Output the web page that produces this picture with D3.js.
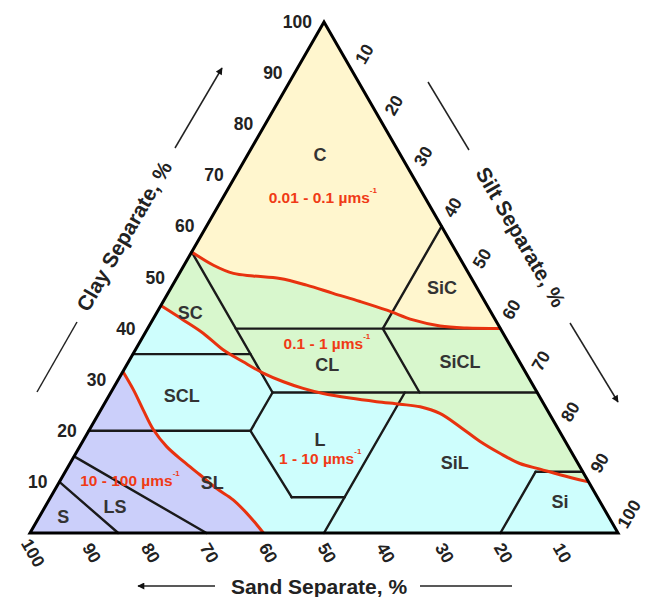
<!DOCTYPE html>
<html><head><meta charset="utf-8">
<script src="https://cdn.jsdelivr.net/npm/d3@7"></script>
<style>html,body{margin:0;padding:0;background:#fff;}svg{display:block;}</style>
</head><body>
<svg id="chart" width="654" height="597"></svg>
<script>
// ---------- data ----------
const clayTicks = [10,20,30,40,50,60,70,80,90,100];
const siltTicks = [10,20,30,40,50,60,70,80,90,100];
const sandTicks = [100,90,80,70,60,50,40,30,20,10];

// texture class boundaries: [sand, silt, clay] end points
const boundaries = [
  [[45,0,55],[45,27.5,27.5]],
  [[45,15,40],[0,60,40]],
  [[65,0,35],[45,20,35]],
  [[20,40,40],[0,40,60]],
  [[20,40,40],[20,52.5,27.5]],
  [[45,27.5,27.5],[0,72.5,27.5]],
  [[45,27.5,27.5],[52.5,27.5,20]],
  [[80,0,20],[52.5,27.5,20]],
  [[52.5,27.5,20],[52,41,7]],
  [[52,41,7],[43,50,7]],
  [[50,50,0],[22.5,50,27.5]],
  [[8,80,12],[0,88,12]],
  [[20,80,0],[8,80,12]],
  [[85,0,15],[70,30,0]],
  [[90,0,10],[85,15,0]]
];

// texture class names and label positions (silt %, clay %)
const classNames = ["C","SiC","SC","CL","SiCL","SCL","L","SiL","Si","SL","LS","S"];
const classSilt  = [12.3,46.1,5.7,34.1,56.4,12.4,40.2,65.4,87.1,26.1,11.9,4.1];
const classClay  = [74.0,47.9,43.1,32.9,33.5,26.8,18.2,13.7,6.1,9.8,5.1,3.1];

// hydraulic conductivity classes
const kLabels = ["0.01 - 0.1 µms","0.1 - 1 µms","1 - 10 µms","10 - 100 µms"];
const kSilt   = [16.9,31.9,42.0,11.8];
const kClay   = [65.8,37.2,14.7,10.4];
const kColors = ["#FFF6CE","#D8F7CD","#CEFEFD","#CBCFFA"];

// boundary curves between conductivity classes (silt %, clay %)
const curve1Silt = [0,5.0,9.2,12.8,17.6,22.8,28.1,33.5,38.9,44.3,49.5,54.2,60];
const curve1Clay = [55,52.4,50.8,50.3,49.8,48.5,46.9,45.3,43.6,41.7,40.5,40.1,40];
const curve2Silt = [0,5.2,9.9,15.0,19.5,24.0,28.3,32.3,36.2,41.2,46.1,50.3,54.0,58.0,62.7,67.6,72.1,76.5,80.5,84.4,90];
const curve2Clay = [44.5,41.7,39.1,35.8,33.5,31.3,29.6,28.3,27.3,26.4,25.7,25.2,24.7,23.4,20.8,17.9,15.6,13.6,12.5,11.4,10];
const curve3Silt = [0,3.6,7.2,10.9,14.8,19.1,23.2,27.4,31.3,35.8,39.7];
const curve3Clay = [31.6,28.0,24.1,20.2,16.9,14.0,11.4,8.7,6.5,3.2,0];

// ---------- drawing ----------
const svg = d3.select("#chart");
const FONT = "'Liberation Sans', Arial, Helvetica, sans-serif";
const sx = d3.scaleLinear().domain([0,100]).range([30,618]);
const sy = d3.scaleLinear().domain([0,100]).range([533,22]);
const P = (silt, clay) => [sx(silt + clay/2), sy(clay)];

const defs = svg.append("defs");
defs.append("marker").attr("id","arr").attr("viewBox","0 0 10 10")
  .attr("refX",9).attr("refY",5).attr("markerWidth",8).attr("markerHeight",7)
  .attr("markerUnits","userSpaceOnUse").attr("orient","auto")
  .append("path").attr("d","M0,0L10,5L0,10Z").attr("fill","#111");

const corners = [P(0,0), P(100,0), P(0,100)];
svg.append("path").attr("d","M"+corners.join("L")+"Z").attr("fill",kColors[2]);

const smooth = d3.line().curve(d3.curveCatmullRom.alpha(0.5));
const pts = (s,c) => s.map((v,i)=>P(v,c[i]));
const c1 = pts(curve1Silt,curve1Clay), c2 = pts(curve2Silt,curve2Clay), c3 = pts(curve3Silt,curve3Clay);

// yellow zone
svg.append("path").attr("d", smooth(c1) + "L" + P(0,100) + "Z").attr("fill",kColors[0]);
// green zone
svg.append("path").attr("d", smooth(c1) + smooth(c2.slice().reverse()).replace(/^M/,"L") + "Z").attr("fill",kColors[1]);
// lavender zone
svg.append("path").attr("d", smooth(c3) + "L" + P(0,0) + "Z").attr("fill",kColors[3]);

// class boundaries
svg.append("g").selectAll("line").data(boundaries).join("line")
  .attr("x1",d=>P(d[0][1],d[0][2])[0]).attr("y1",d=>P(d[0][1],d[0][2])[1])
  .attr("x2",d=>P(d[1][1],d[1][2])[0]).attr("y2",d=>P(d[1][1],d[1][2])[1])
  .attr("stroke","#1a1a1a").attr("stroke-width",2.4).attr("stroke-linecap","round");

// red curves
[c1,c2,c3].forEach(c=>{
  svg.append("path").attr("d",smooth(c)).attr("fill","none")
    .attr("stroke","#E8320F").attr("stroke-width",3);
});

// triangle outline
svg.append("path").attr("d","M"+corners.join("L")+"Z").attr("fill","none")
  .attr("stroke","#000").attr("stroke-width",3).attr("stroke-linejoin","miter");

// class labels
svg.append("g").selectAll("text").data(classNames).join("text")
  .attr("x",(d,i)=>P(classSilt[i],classClay[i])[0])
  .attr("y",(d,i)=>P(classSilt[i],classClay[i])[1])
  .attr("text-anchor","middle").attr("dominant-baseline","central")
  .attr("font-family",FONT).attr("font-weight","bold").attr("font-size",18)
  .attr("fill","#333").text(d=>d);

// conductivity labels
const kt = svg.append("g").selectAll("text").data(kLabels).join("text")
  .attr("x",(d,i)=>P(kSilt[i],kClay[i])[0])
  .attr("y",(d,i)=>P(kSilt[i],kClay[i])[1])
  .attr("text-anchor","middle").attr("dominant-baseline","central")
  .attr("font-family",FONT).attr("font-weight","bold").attr("font-size",15.5)
  .attr("fill","#F03A16");
kt.append("tspan").text(d=>d);
kt.append("tspan").attr("dy",-7).attr("font-size",8).text("-1");

// tick labels
const tickFont = g => g.attr("font-family",FONT).attr("font-weight","bold").attr("font-size",17.5).attr("fill","#222");
svg.append("g").call(tickFont).selectAll("text").data(clayTicks).join("text")
  .attr("x",d=>P(0,d)[0]-12).attr("y",d=>P(0,d)[1])
  .attr("text-anchor","end").attr("dominant-baseline","central").text(d=>d);

svg.append("g").call(tickFont).selectAll("text").data(siltTicks).join("text")
  .attr("transform",d=>{const p=P(d,100-d);return `translate(${p[0]+11},${p[1]-19}) rotate(-60)`;})
  .attr("text-anchor","middle").attr("dominant-baseline","central").text(d=>d);

svg.append("g").call(tickFont).selectAll("text").data(sandTicks).join("text")
  .attr("transform",d=>{const p=P(100-d,0);return `translate(${p[0]+3},${p[1]+20}) rotate(60)`;})
  .attr("text-anchor","middle").attr("dominant-baseline","central").text(d=>d);

// axis titles
const titleFont = t => t.attr("font-family",FONT).attr("font-weight","bold").attr("font-size",21).attr("fill","#222")
  .attr("text-anchor","middle").attr("dominant-baseline","central");
svg.append("text").call(titleFont).attr("transform","translate(124,236) rotate(-60)").text("Clay Separate, %");
svg.append("text").call(titleFont).attr("transform","translate(521,237) rotate(60)").text("Silt Separate, %");
svg.append("text").call(titleFont).attr("transform","translate(319,586)").text("Sand Separate, %");

const deco = [
  {x1:175,y1:148,x2:222,y2:68,arrow:true},
  {x1:37,y1:392,x2:77,y2:322,arrow:false},
  {x1:428,y1:82,x2:469,y2:150,arrow:false},
  {x1:570,y1:323,x2:618,y2:402,arrow:true},
  {x1:215,y1:586,x2:138,y2:586,arrow:true},
  {x1:420,y1:586,x2:512,y2:586,arrow:false}
];
deco.forEach(d=>{
  const l = svg.append("line").attr("x1",d.x1).attr("y1",d.y1).attr("x2",d.x2).attr("y2",d.y2)
    .attr("stroke","#222").attr("stroke-width",1.5);
  if(d.arrow) l.attr("marker-end","url(#arr)");
});
</script>
</body></html>
